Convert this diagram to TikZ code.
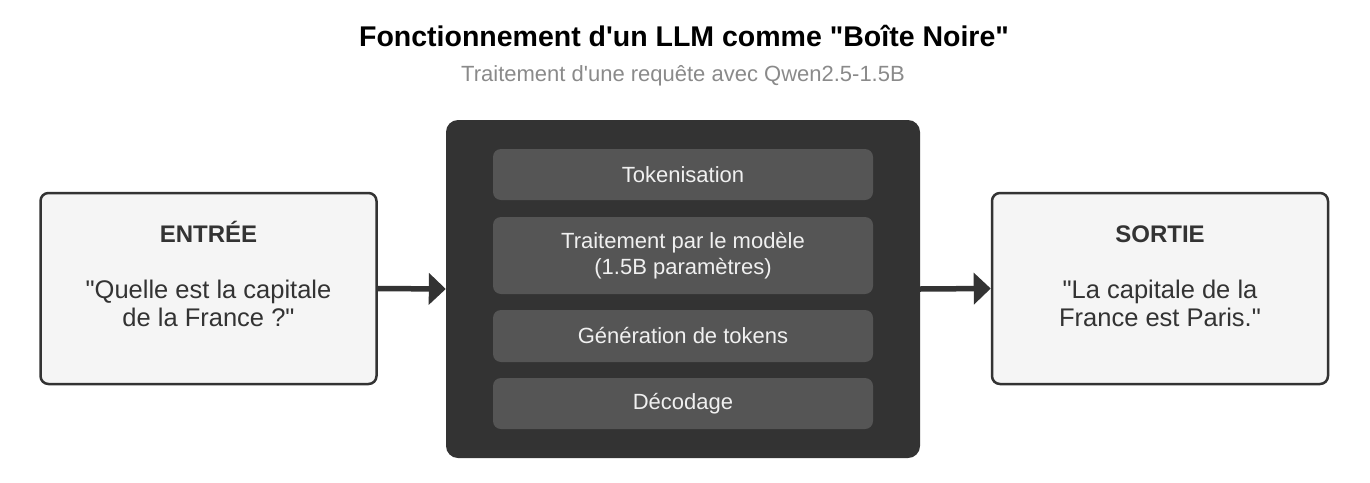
\documentclass[tikz,border=0pt]{standalone}
\usepackage{fontspec}
\setmainfont{Liberation Sans}[Ligatures=TeXOff]
\usepackage{xcolor}
\usetikzlibrary{arrows.meta,positioning}
\definecolor{boxdark}{HTML}{333333}
\definecolor{stagegray}{HTML}{555555}
\definecolor{iofill}{HTML}{F5F5F5}
\definecolor{subgray}{HTML}{8A8A8A}

\begin{document}
\begin{tikzpicture}[x=1pt, y=-1pt,
  iobox/.style={draw=boxdark, line width=2.5pt, fill=iofill, rounded corners=8pt,
    minimum width=336pt, minimum height=191pt, inner sep=0pt},
  iolabel/.style={anchor=base, text=boxdark, font=\bfseries\fontsize{24}{28}\selectfont},
  iotext/.style={text=boxdark, align=center, font=\fontsize{25.5}{28}\selectfont},
  stage/.style={fill=stagegray, rounded corners=8pt, minimum width=380pt, inner sep=0pt,
    text=white!94!black, align=center, font=\fontsize{22}{26}\selectfont},
  flow/.style={draw=boxdark, line width=5.5pt, -{Triangle[length=17pt, width=31pt]}}]
  \useasboundingbox (0,0) rectangle (1370,482);

  % Title
  \node[anchor=base, font=\bfseries\fontsize{28.5}{34}\selectfont] (title) at (684,46)
    {Fonctionnement d'un LLM comme "Boîte Noire"};
  \node[anchor=base, text=subgray, font=\fontsize{22}{26}\selectfont] (subtitle) at (683,81)
    {Traitement d'une requête avec Qwen2.5-1.5B};

  % Input
  \node[iobox] (input) at (208.5,288.5) {};
  \node[iolabel] (inlabel) at (208.5,242) {ENTRÉE};
  \node[iotext] (intext) at (208.5,303) {"Quelle est la capitale\\de la France ?"};

  % The black box and its stages
  \node[fill=boxdark, rounded corners=12pt, minimum width=474pt, minimum height=338pt] (llm) at (683,289) {};
  \node[stage, minimum height=51pt] (tokens) at (683,174.5) {Tokenisation};
  \node[stage, minimum height=77pt] (model) at (683,255.5) {Traitement par le modèle\\(1.5B paramètres)};
  \node[stage, minimum height=52pt] (gen) at (683,336) {Génération de tokens};
  \node[stage, minimum height=51pt] (decode) at (683,403.5) {Décodage};

  % Output
  \node[iobox] (output) at (1160,288.5) {};
  \node[iolabel] (outlabel) at (1160,242) {SORTIE};
  \node[iotext] (outtext) at (1160,303) {"La capitale de la\\France est Paris."};

  % Arrows
  \draw[flow] (input.east) -- (llm.west);
  \draw[flow] (llm.east) -- (output.west);
\end{tikzpicture}
\end{document}
